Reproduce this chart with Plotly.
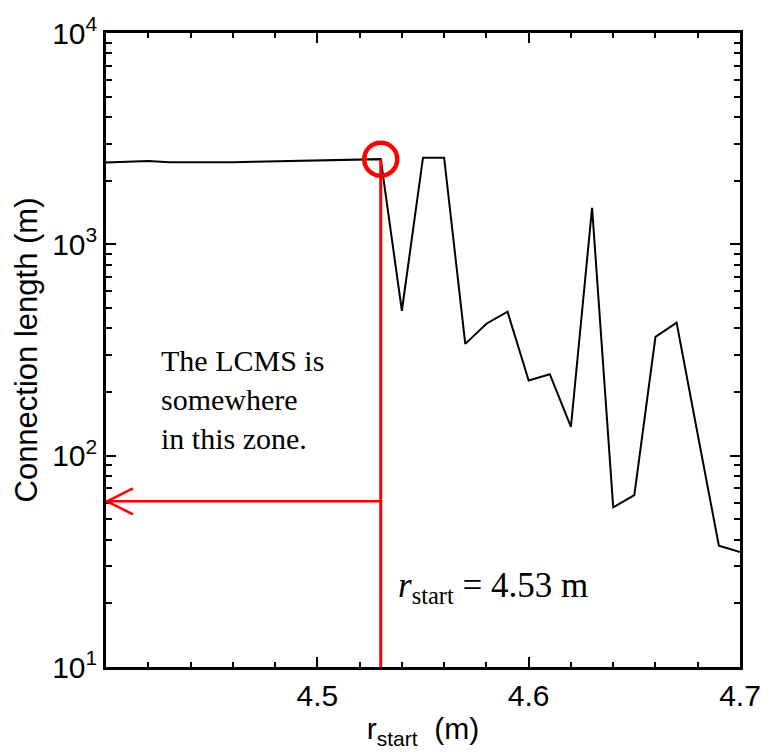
import plotly.graph_objects as go

# ---- data ----
r_start = [4.40, 4.41, 4.42, 4.43, 4.44, 4.45, 4.46, 4.47, 4.48, 4.49,
           4.50, 4.51, 4.52, 4.53, 4.54, 4.55, 4.56, 4.57, 4.58, 4.59,
           4.60, 4.61, 4.62, 4.63, 4.64, 4.65, 4.66, 4.67, 4.68, 4.69, 4.70]
conn_length = [2440, 2450, 2480, 2445, 2440, 2440, 2445, 2460, 2470, 2470,
               2480, 2490, 2520, 2530, 485, 2570, 2570, 338, 421, 480,
               227, 243, 137, 1490, 57, 65, 365, 426, 126, 37.5, 35]

lcms_r = 4.53
lcms_len = 2530
arrow_level = 60.8
y_bottom = 10

x_tickvals = [4.4, 4.5, 4.6, 4.7]
x_ticktext = ["", "4.5", "4.6", "4.7"]
y_tickvals = [10, 100, 1000, 10000]
y_ticktext = ["10<sup>1</sup>", "10<sup>2</sup>", "10<sup>3</sup>", "10<sup>4</sup>"]

fig = go.Figure()

fig.add_trace(go.Scatter(x=r_start, y=conn_length, mode="lines",
                         line=dict(color="black", width=2), showlegend=False))
# vertical red line
fig.add_trace(go.Scatter(x=[lcms_r, lcms_r], y=[lcms_len, y_bottom], mode="lines",
                         line=dict(color="#ff0000", width=3), showlegend=False))
# horizontal arrow shaft
fig.add_trace(go.Scatter(x=[lcms_r, r_start[0]], y=[arrow_level, arrow_level], mode="lines",
                         line=dict(color="#ff0000", width=2.5), showlegend=False))
# circle marker
fig.add_trace(go.Scatter(x=[lcms_r], y=[lcms_len], mode="markers",
                         marker=dict(symbol="circle-open", size=33, color="#ff0000",
                                     line=dict(color="#ff0000", width=4.5)),
                         cliponaxis=False, showlegend=False))

# arrowhead (open V) anchored at the arrow tip
fig.add_shape(type="path", xref="x", yref="y",
              xsizemode="pixel", ysizemode="pixel",
              xanchor=r_start[0], yanchor=arrow_level,
              path="M 27,13 L 1,0 L 27,-13",
              line=dict(color="#ff0000", width=2.5))

fig.add_annotation(x=4.425, y=2.265, xref="x", yref="y",
                   text="The LCMS is<br>somewhere<br>in this zone.",
                   showarrow=False, xanchor="left", yanchor="middle", align="left",
                   font=dict(family="Liberation Serif", size=30, color="black"))
fig.add_annotation(x=4.537, y=1.375, xref="x", yref="y",
                   text="<i>r</i><sub>start</sub> = 4.53 m",
                   showarrow=False, xanchor="left", yanchor="middle", align="left",
                   font=dict(family="Liberation Serif", size=35, color="black"))

axis_common = dict(showline=True, linecolor="black", linewidth=2.5, mirror="ticks",
                   ticks="inside", tickcolor="black", tickwidth=2, ticklen=10,
                   showgrid=False, zeroline=False,
                   tickfont=dict(family="Liberation Sans", size=30, color="black"))

fig.update_xaxes(range=[4.4, 4.7], tickvals=x_tickvals, ticktext=x_ticktext,
                 minor=dict(dtick=0.02, tick0=4.4, ticks="inside", ticklen=5,
                            tickwidth=2, tickcolor="black", showgrid=False),
                 title=dict(text="r<sub>start</sub>  (m)", standoff=8,
                            font=dict(family="Liberation Sans", size=30, color="black")),
                 **axis_common)
fig.update_yaxes(type="log", range=[1, 4], tickvals=y_tickvals, ticktext=y_ticktext,
                 minor=dict(dtick="D1", ticks="inside", ticklen=6, tickwidth=2,
                            tickcolor="black", showgrid=False),
                 title=dict(text="Connection length (m)", standoff=6,
                            font=dict(family="Liberation Sans", size=31, color="black")),
                 **axis_common)

fig.update_layout(width=773, height=756, margin=dict(l=106, r=28, t=31, b=89),
                  paper_bgcolor="white", plot_bgcolor="white", showlegend=False)

fig.write_html("out.html")
